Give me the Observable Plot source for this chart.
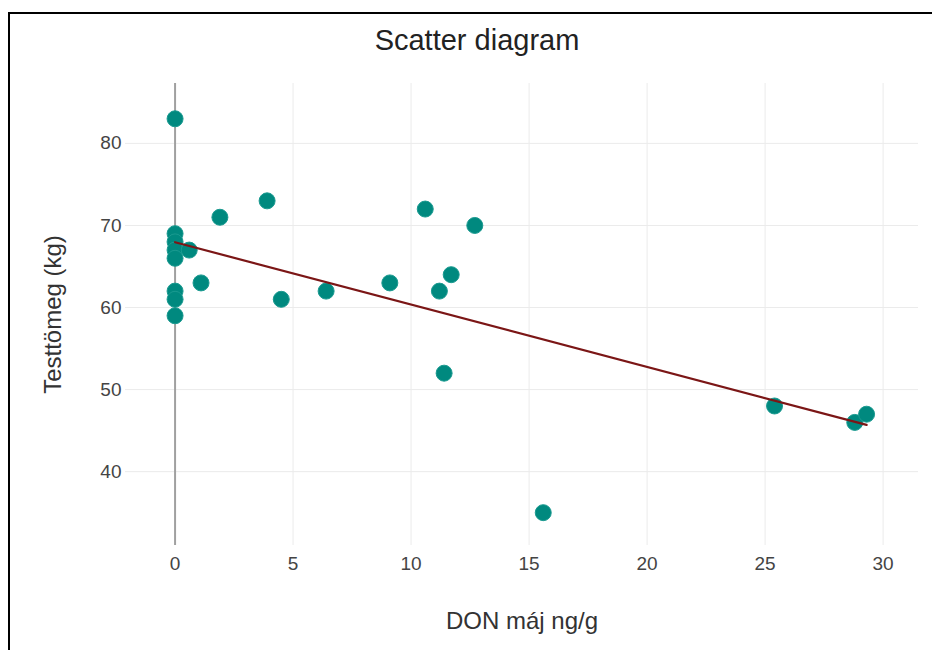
<!DOCTYPE html>
<html>
<head>
<meta charset="utf-8">
<script src="https://cdn.jsdelivr.net/npm/d3@7"></script>
<script src="https://cdn.jsdelivr.net/npm/@observablehq/plot@0.6"></script>
<style>
  html, body { margin: 0; padding: 0; background: #fff; }
  #wrap { position: relative; width: 932px; height: 650px; overflow: hidden; font-family: "Liberation Sans", Arial, sans-serif; }
  #frame { position: absolute; left: 8px; top: 12px; width: 940px; height: 700px; border-top: 2px solid #000; border-left: 2px solid #000; pointer-events: none; }
  #title { position: absolute; top: 24px; left: 0; width: 954px; text-align: center; font-size: 29px; color: #222; }
  svg { position: absolute; left: 0; top: 0; }
</style>
</head>
<body>
<div id="wrap">
  <div id="title">Scatter diagram</div>
  <div id="chart"></div>
  <div id="frame"></div>
</div>
<script>
const donMaj = [0, 0, 0, 0, 0, 0, 0, 0, 0.6, 1.1, 1.9, 3.9, 4.5, 6.4, 9.1, 10.6, 12.7, 11.7, 11.2, 11.4, 15.6, 25.4, 28.8, 29.3];
const testtomeg = [83, 69, 68, 67, 66, 62, 61, 59, 67, 63, 71, 73, 61, 62, 63, 72, 70, 64, 62, 52, 35, 48, 46, 47];
const xTicks = [0, 5, 10, 15, 20, 25, 30];
const yTicks = [40, 50, 60, 70, 80];
const xLabel = "DON máj ng/g";
const yLabel = "Testtömeg (kg)";

const data = donMaj.map((x, i) => ({x, y: testtomeg[i]}));

const chart = Plot.plot({
  width: 932,
  height: 650,
  marginTop: 83,
  marginBottom: 105,
  marginLeft: 125,
  marginRight: 14,
  style: {fontFamily: '"Liberation Sans", Arial, sans-serif', background: "transparent"},
  x: {domain: [-2.1, 31.5]},
  y: {domain: [31, 87.3]},
  marks: [
    Plot.gridX(xTicks, {stroke: "#ebebeb", strokeOpacity: 1, strokeWidth: 1}),
    Plot.gridY(yTicks, {stroke: "#ebebeb", strokeOpacity: 1, strokeWidth: 1}),
    Plot.ruleX([0], {stroke: "#a0a0a0", strokeWidth: 2}),
    Plot.axisX(xTicks, {tickSize: 0, tickPadding: 11, fontSize: 19, color: "#444", label: null}),
    Plot.axisY(yTicks, {tickSize: 0, tickPadding: 4, fontSize: 19, color: "#444", label: null}),
    Plot.dot(data, {x: "x", y: "y", r: 8, fill: "#00897f", stroke: "#1a9a90", strokeWidth: 1}),
    Plot.linearRegressionY(data, {x: "x", y: "y", stroke: "#7b1616", strokeWidth: 2.2, ci: 0}),
    Plot.text([xLabel], {frameAnchor: "bottom", dy: 83, fontSize: 24, fill: "#333"}),
    Plot.text([yLabel], {frameAnchor: "left", textAnchor: "middle", dx: -72, rotate: -90, fontSize: 24, fill: "#333"})
  ]
});
document.getElementById("chart").appendChild(chart);
</script>
</body>
</html>
